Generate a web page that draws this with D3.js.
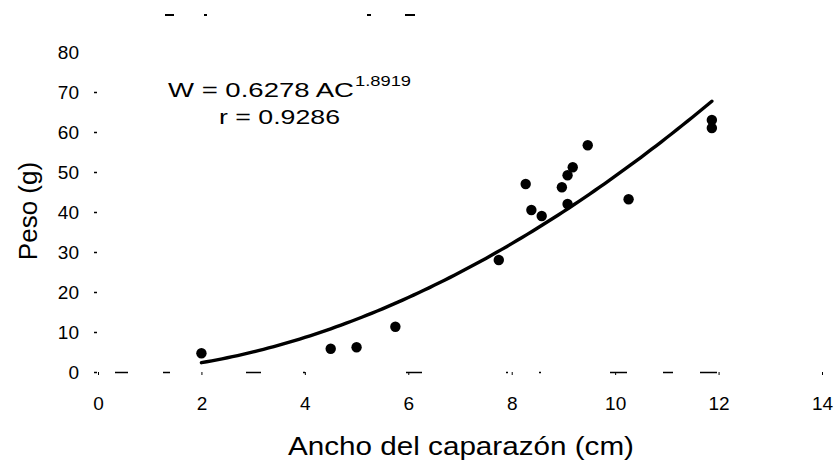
<!DOCTYPE html>
<html>
<head>
<meta charset="utf-8">
<script src="https://cdn.jsdelivr.net/npm/d3@7"></script>
<style>
  body { margin: 0; background: #fff; }
  svg { display: block; font-family: "Liberation Sans", Arial, sans-serif; }
</style>
</head>
<body>
<div id="chart"></div>
<script>
// ancho del caparazón (cm) y peso (g)
const ancho = [2.0, 4.5, 5.0, 5.75, 7.75, 8.27, 8.38, 8.58, 8.97, 9.08, 9.18, 9.08, 9.47, 10.26, 11.87, 11.87];
const peso  = [4.7, 5.8, 6.2, 11.3, 28.0, 47.0, 40.5, 39.0, 46.2, 49.2, 51.2, 42.0, 56.7, 43.2, 63.0, 61.0];
const xTicks = [0, 2, 4, 6, 8, 10, 12, 14];
const yTicks = [0, 10, 20, 30, 40, 50, 60, 70, 80];
// modelo potencial W = a * AC^b
const coefA = 0.6278;
const coefB = 1.8919;
const rValue = "0.9286";
const xMinFit = 2.0, xMaxFit = 11.87;

const width = 835, height = 472;
const svg = d3.select("#chart").append("svg")
    .attr("width", width)
    .attr("height", height);

const x = d3.scaleLinear().domain([0, 14]).range([98, 822]);
const y = d3.scaleLinear().domain([0, 80]).range([372, 52]);

// borde superior borroso (escaneo)
svg.append("line")
    .attr("x1", 165).attr("x2", 462)
    .attr("y1", 15).attr("y2", 15)
    .attr("stroke", "#000")
    .attr("stroke-width", 2)
    .attr("stroke-dasharray", "9,30,3,160,4,34,10,200");

// eje X
const xAxis = svg.append("g")
    .attr("transform", `translate(0,${y(0)})`)
    .call(d3.axisBottom(x).tickValues(xTicks).tickSize(3).tickPadding(22));
xAxis.select(".domain")
    .attr("stroke-width", 1.5)
    .attr("stroke-dasharray", "0,19,13,35,7,76,15,42,2,101,16,84,2,31,2,69,17,36,10,27,17,200");
xAxis.selectAll(".tick line").attr("stroke-width", 1);
xAxis.selectAll(".tick text")
    .attr("font-size", 19)
    .attr("fill", "#000");

// eje Y
const yAxis = svg.append("g")
    .attr("transform", `translate(97,0)`)
    .call(d3.axisLeft(y).tickValues(yTicks).tickSize(3).tickPadding(15));
yAxis.select(".domain").remove();
yAxis.selectAll(".tick line").attr("stroke-width", 1.5);
yAxis.selectAll(".tick text")
    .attr("font-size", 19)
    .attr("fill", "#000");
yAxis.selectAll(".tick").filter(d => d === 80).select("line").remove();

// títulos de ejes
svg.append("text")
    .attr("x", 288).attr("y", 455)
    .attr("font-size", 25)
    .attr("textLength", 346)
    .attr("lengthAdjust", "spacingAndGlyphs")
    .text("Ancho del caparazón (cm)");

svg.append("text")
    .attr("transform", "translate(37,211) rotate(-90)")
    .attr("text-anchor", "middle")
    .attr("font-size", 26)
    .text("Peso (g)");

// curva ajustada
const curveX = d3.range(xMinFit, xMaxFit, 0.1).concat([xMaxFit]);
const line = d3.line()
    .x(d => x(d))
    .y(d => y(coefA * Math.pow(d, coefB)));
svg.append("path")
    .datum(curveX)
    .attr("fill", "none")
    .attr("stroke", "#000")
    .attr("stroke-width", 3.4)
    .attr("stroke-linecap", "round")
    .attr("d", line);

// puntos
svg.selectAll("circle.pt")
    .data(ancho.map((a, i) => ({ a: a, p: peso[i] })))
    .enter().append("circle")
    .attr("class", "pt")
    .attr("cx", d => x(d.a))
    .attr("cy", d => y(d.p))
    .attr("r", 5.2)
    .attr("fill", "#000");

// ecuación
svg.append("text")
    .attr("x", 168).attr("y", 97)
    .attr("font-size", 21)
    .attr("textLength", 186)
    .attr("lengthAdjust", "spacingAndGlyphs")
    .text(`W = ${coefA} AC`);
svg.append("text")
    .attr("x", 355).attr("y", 86)
    .attr("font-size", 15)
    .attr("textLength", 56)
    .attr("lengthAdjust", "spacingAndGlyphs")
    .text(coefB);

svg.append("text")
    .attr("x", 219).attr("y", 124)
    .attr("font-size", 21)
    .attr("textLength", 121)
    .attr("lengthAdjust", "spacingAndGlyphs")
    .text(`r = ${rValue}`);
</script>
</body>
</html>
